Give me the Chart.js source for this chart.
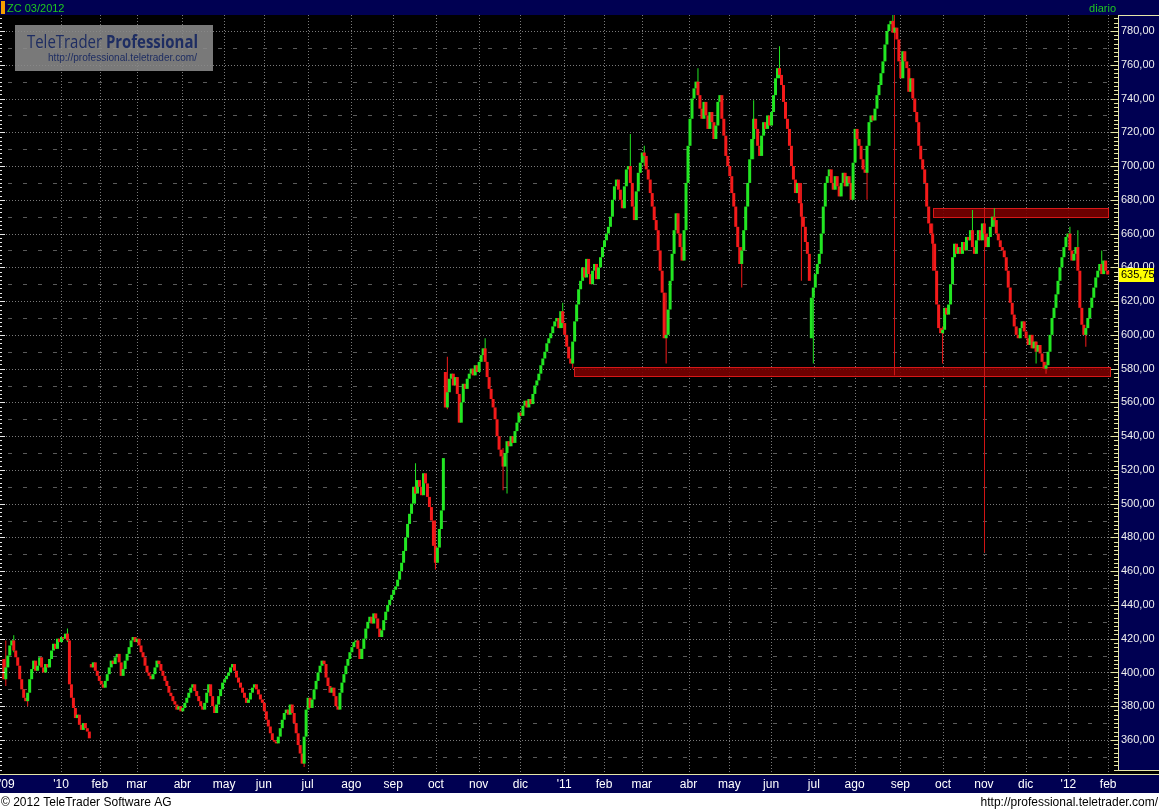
<!DOCTYPE html>
<html>
<head>
<meta charset="utf-8">
<script src="https://cdn.jsdelivr.net/npm/chart.js@4.4.0/dist/chart.umd.min.js"></script>
<style>
  html, body { margin: 0; padding: 0; background: #fff; }
  #wrap { width: 1159px; height: 810px; }
</style>
</head>
<body>
<div id="wrap"><canvas id="chart" width="1159" height="810"></canvas></div>
<script>
// ZC 03/2012, daily closes (one per trading day)
const closes = [
  396, 403, 410, 416, 419, 413, 409, 404, 396, 390,
  385, 383, 388, 396, 402, 407, 401, 404, 409, 403,
  400, 405, 403, 408, 413, 417, 414, 420, 418, 421,
  420, 423, 419, 393, 385, 379, 373, 375, 369, 366,
  370, 367, 365, 361, 403, 406, 401, 398, 395, 393,
  391, 395, 399, 403, 407, 405, 409, 411, 406, 398,
  402, 407, 411, 415, 419, 421, 418, 420, 416, 412,
  409, 404, 400, 398, 396, 399, 403, 407, 405, 401,
  398, 395, 392, 388, 386, 383, 381, 378, 380, 377,
  379, 382, 385, 388, 391, 393, 389, 386, 383, 380,
  378, 382, 388, 393, 386, 380, 376, 381, 386, 390,
  394, 396, 398, 400, 403, 405, 401, 397, 394, 391,
  388, 385, 382, 384, 388, 391, 393, 390, 387, 384,
  382, 377, 372, 368, 364, 360, 359, 358, 362, 367,
  372, 376, 378, 375, 381, 376, 370, 364, 357, 352,
  346, 362, 378, 385, 379, 384, 390, 395, 400, 404,
  407, 405, 397, 392, 388, 391, 386, 380, 378, 388,
  394, 399, 404, 408, 412, 415, 418, 419, 414, 408,
  414, 420, 426, 430, 433, 429, 435, 432, 426, 421,
  425, 431, 436, 440, 443, 446, 449, 451, 455, 460,
  465, 472, 480, 488, 494, 500, 510, 506, 514, 510,
  505, 518, 512, 504, 498, 490, 475, 465, 474, 485,
  496, 527, 557, 566, 574, 577, 570, 575, 565, 548,
  560, 571, 568, 574, 577, 580, 576, 582, 578, 584,
  588, 592, 584, 575, 568, 562, 557, 550, 540, 532,
  528, 522, 530, 537, 534, 540, 536, 543, 548, 554,
  552, 558, 561, 557, 562, 559, 565, 570, 573, 577,
  582, 586, 590, 595, 598, 601, 605, 608, 610, 604,
  614, 607, 600, 593, 586, 583, 596, 608, 618, 627,
  632, 640, 634, 645, 636, 630, 638, 642, 633, 640,
  646, 652, 656, 660, 664, 670, 680, 688, 692, 686,
  680, 675, 688, 698, 700, 690, 676, 668, 685, 696,
  702, 708, 706, 698, 692, 684, 676, 668, 662, 650,
  638, 625, 598, 600, 615, 632, 648, 662, 672, 660,
  652, 644, 662, 690, 712, 728, 740, 746, 750, 742,
  734, 728, 738, 730, 722, 732, 726, 716, 724, 738,
  742, 728, 718, 706, 700, 694, 684, 676, 664, 652,
  642, 650, 662, 676, 690, 704, 716, 728, 722, 712,
  706, 718, 726, 722, 730, 724, 732, 742, 752, 758,
  754, 748, 738, 728, 722, 712, 700, 692, 684, 690,
  678, 670, 664, 655, 648, 632, 622, 628, 636, 642,
  648, 660, 676, 690, 694, 698, 690, 686, 694, 688,
  682, 690, 696, 688, 694, 690, 680, 702, 722, 716,
  712, 704, 698, 696, 712, 726, 730, 727, 734, 742,
  748, 755, 762, 772, 780, 784, 786, 779, 782, 775,
  762, 752, 768, 762, 758, 744, 752, 740, 732, 726,
  712, 704, 698, 690, 676, 666, 660, 654, 638, 618,
  604, 601, 603, 616, 612, 618, 630, 646, 654, 648,
  652, 648, 655, 650, 658, 656, 662, 652, 648, 656,
  662, 656, 666, 660, 652, 658, 664, 670, 668, 660,
  656, 652, 650, 646, 638, 628, 619, 612, 605, 600,
  598, 604, 608, 602, 598, 594, 600, 592, 596, 590,
  594, 589, 584, 580, 582, 590, 600, 610, 616, 624,
  632, 640, 646, 652, 658, 660, 650, 644, 648, 652,
  638, 616, 606, 600, 604, 610, 616, 622, 628, 634,
  638, 642, 636, 644, 638, 635.75
];

// days whose open is not the previous close (gaps): [day, open]
const gapOpens = [[0, 408], [44, 405], [222, 578], [406, 598]];

// long shadows: [day, high, low]
const wicks = [
  [0, 419, 392], [4, 422, 412], [11, 386, 380], [31, 426, 418],
  [150, 352, 344], [206, 524, 500], [216, 490, 461], [222, 587, 556],
  [241, 598, 585], [250, 533, 508], [252, 535, 506], [280, 619, 604],
  [285, 590, 580], [314, 719, 690], [321, 712, 700], [332, 625, 583],
  [348, 758, 742], [370, 652, 628], [376, 739, 704], [389, 771, 752],
  [400, 690, 632], [406, 622, 583], [433, 698, 680], [446, 790, 780],
  [466, 666, 638], [471, 605, 583], [486, 674, 656], [497, 675, 664],
  [518, 596, 583], [523, 584, 577], [535, 664, 658], [539, 662, 648],
  [543, 604, 593], [551, 650, 638]
];

// x axis: trading-day position of each month start, and its label
const monthTicks = [0.8, 28, 47.5, 66, 89, 110, 130, 152, 174, 195, 216.5, 238, 259,
  281, 301, 320, 343.5, 364, 385, 406.5, 427, 450, 471.5, 492, 513, 534.5, 554.5];
const monthLabels = ["'09", "'10", "feb", "mar", "abr", "may", "jun", "jul", "ago", "sep", "oct", "nov", "dic",
  "'11", "feb", "mar", "abr", "may", "jun", "jul", "ago", "sep", "oct", "nov", "dic", "'12", "feb"];

const yTicks = [360, 380, 400, 420, 440, 460, 480, 500, 520, 540, 560, 580, 600,
  620, 640, 660, 680, 700, 720, 740, 760, 780];

// drawn support / resistance boxes: [fromDay, toDay, low, high]
const supportBox = [286, 555.5, 575.5, 581];
const resistanceBox = [466.5, 554.5, 669.8, 675];
// measuring lines: [day, from, to]
const measureLines = [[446.8, 576, 789.5], [492, 471, 675]];

const UP = "#22e622";
const DOWN = "#f41a1a";
const NAVY = "#000052";

const opens = closes.map((c, i) => i === 0 ? c : closes[i - 1]);
gapOpens.forEach(([i, o]) => { opens[i] = o; });
const candleColors = closes.map((c, i) => c >= opens[i] ? UP : DOWN);

const bodyData = closes.map((c, i) => ({ x: i, y: [opens[i], c] }));
const wickData = wicks.map(([i, h, l]) => ({ x: i, y: [l, h] }));
const wickColors = wicks.map(([i]) => candleColors[i]);

const fmt = v => v.toFixed(2).replace(".", ",");

const terminal = {
  id: "terminal",
  beforeDraw(chart) {
    const { ctx, chartArea: a, width, height } = chart;
    ctx.save();
    ctx.fillStyle = "#fff";
    ctx.fillRect(0, 0, width, height);
    ctx.fillStyle = NAVY;
    ctx.fillRect(0, 0, width, a.top);
    ctx.fillStyle = "#000";
    ctx.fillRect(0, a.top, width, a.bottom - a.top);
    ctx.fillStyle = NAVY;
    ctx.fillRect(a.right, a.top, width - a.right, a.bottom - a.top - 4);
    ctx.fillRect(0, a.bottom, width, 19);
    ctx.restore();
  },
  beforeDatasetsDraw(chart) {
    const { ctx, chartArea: a, scales: { x, y } } = chart;
    ctx.save();
    ctx.beginPath();
    ctx.rect(a.left, a.top, a.right - a.left, a.bottom - a.top);
    ctx.clip();
    ctx.lineWidth = 1;

    ctx.strokeStyle = "#7a7a7a";
    ctx.setLineDash([1, 2]);
    monthTicks.slice(1).forEach(v => {
      const px = Math.round(x.getPixelForValue(v)) + 0.5;
      ctx.beginPath(); ctx.moveTo(px, a.top); ctx.lineTo(px, a.bottom); ctx.stroke();
    });
    yTicks.forEach(v => {
      const py = Math.round(y.getPixelForValue(v)) + 0.5;
      ctx.beginPath(); ctx.moveTo(a.left, py); ctx.lineTo(a.right, py); ctx.stroke();
    });
    ctx.strokeStyle = "#5a5a5a";
    ctx.setLineDash([4, 11]);
    yTicks.map(v => v - 10).concat([790]).forEach(v => {
      const py = Math.round(y.getPixelForValue(v)) + 0.5;
      ctx.beginPath(); ctx.moveTo(a.left + 8, py); ctx.lineTo(a.right, py); ctx.stroke();
    });
    ctx.setLineDash([]);

    [supportBox, resistanceBox].forEach(([d0, d1, lo, hi]) => {
      const x0 = Math.round(x.getPixelForValue(d0)) + 0.5;
      const x1 = Math.round(x.getPixelForValue(d1)) + 0.5;
      const y0 = Math.round(y.getPixelForValue(hi)) + 0.5;
      const y1 = Math.round(y.getPixelForValue(lo)) + 0.5;
      ctx.fillStyle = "rgba(120,0,0,0.9)";
      ctx.fillRect(x0, y0, x1 - x0, y1 - y0);
      ctx.strokeStyle = "#d81818";
      ctx.strokeRect(x0, y0, x1 - x0, y1 - y0);
    });
    ctx.strokeStyle = "#d01414";
    measureLines.forEach(([d, v0, v1]) => {
      const px = Math.round(x.getPixelForValue(d)) + 0.5;
      ctx.beginPath();
      ctx.moveTo(px, y.getPixelForValue(v0));
      ctx.lineTo(px, y.getPixelForValue(v1));
      ctx.stroke();
    });
    ctx.restore();
  },
  afterDraw(chart) {
    const { ctx, chartArea: a, scales: { y }, width } = chart;
    ctx.save();

    // axis frame lines
    ctx.fillStyle = "#e6e6a8";
    ctx.fillRect(0, a.bottom, width, 1);
    ctx.fillRect(a.right, a.top, 1, a.bottom - a.top - 4);
    ctx.fillRect(a.right, a.top, width - a.right, 1);
    ctx.fillRect(a.right, a.bottom - 4, width - a.right, 1);

    // small tick marks on both plot edges
    for (let v = 340; v <= 790; v += 2.5) {
      const py = Math.round(y.getPixelForValue(v));
      if (py < a.top + 2 || py > a.bottom - 2) continue;
      const major = v % 20 === 0;
      ctx.fillStyle = "#e6e6a8";
      ctx.fillRect(a.right - (major ? 7 : 4), py, major ? 7 : 4, 1);
      ctx.fillStyle = "#e8e8e8";
      ctx.fillRect(0, py, major ? 5 : 2, 1);
    }

    // last price
    const last = closes[closes.length - 1];
    const lp = y.getPixelForValue(last);
    ctx.fillStyle = "#ffff00";
    ctx.fillRect(a.right + 1, Math.round(lp) - 7, 35, 14);
    ctx.fillStyle = "#000";
    ctx.font = '11px "Liberation Sans"';
    ctx.textBaseline = "middle";
    ctx.fillText(fmt(last), a.right + 3, lp + 0.5);

    // logo
    ctx.fillStyle = "rgba(138,138,138,0.88)";
    ctx.fillRect(15, 25, 198, 46);
    ctx.fillStyle = "#1e2d62";
    ctx.textBaseline = "alphabetic";
    ctx.font = '18px "Open Sans"';
    const w1 = ctx.measureText("TeleTrader ").width;
    ctx.font = 'bold 18px "Open Sans"';
    const w2 = ctx.measureText("Professional").width;
    ctx.save();
    ctx.translate(27, 48);
    ctx.scale(171 / (w1 + w2), 1);
    ctx.font = '18px "Open Sans"';
    ctx.fillText("TeleTrader ", 0, 0);
    ctx.font = 'bold 18px "Open Sans"';
    ctx.fillText("Professional", w1, 0);
    ctx.restore();
    ctx.font = '11px "Liberation Sans"';
    const wu = ctx.measureText("http://professional.teletrader.com/").width;
    ctx.save();
    ctx.translate(48, 61);
    ctx.scale(149 / wu, 1);
    ctx.fillText("http://professional.teletrader.com/", 0, 0);
    ctx.restore();

    // header
    ctx.fillStyle = "#f5a000";
    ctx.fillRect(1, 1, 4, 13);
    ctx.fillStyle = "#1fc81f";
    ctx.font = '11px "Liberation Sans"';
    ctx.fillText("ZC 03/2012", 7, 12);
    ctx.textAlign = "right";
    ctx.fillText("diario", 1116, 12);

    // footer
    ctx.fillStyle = "#000";
    ctx.font = '12px "Liberation Sans"';
    ctx.textAlign = "left";
    ctx.fillText("\u00a9 2012 TeleTrader Software AG", 1, 806);
    ctx.textAlign = "right";
    ctx.fillText("http://professional.teletrader.com/", 1158, 806);
    ctx.restore();
  }
};

const xRange = { min: -2.665, max: 559.43 };

new Chart(document.getElementById("chart"), {
  type: "bar",
  data: {
    datasets: [
      {
        data: bodyData,
        xAxisID: "x",
        backgroundColor: candleColors,
        borderWidth: 0,
        barThickness: 3,
        inflateAmount: 0,
        minBarLength: 1
      },
      {
        data: wickData,
        xAxisID: "x2",
        backgroundColor: wickColors,
        borderWidth: 0,
        barThickness: 1,
        inflateAmount: 0
      }
    ]
  },
  options: {
    responsive: false,
    animation: false,
    devicePixelRatio: 1,
    events: [],
    layout: { padding: { top: 15, bottom: 17, left: 0, right: 0 } },
    plugins: { legend: { display: false }, tooltip: { enabled: false } },
    scales: {
      x: {
        type: "linear",
        min: xRange.min,
        max: xRange.max,
        offset: false,
        grid: { display: false, drawTicks: false },
        border: { display: false },
        afterBuildTicks: s => { s.ticks = monthTicks.map(v => ({ value: v })); },
        afterFit: s => { s.height = 19; s.paddingLeft = 0; s.paddingRight = 0; },
        ticks: {
          autoSkip: false,
          maxRotation: 0,
          minRotation: 0,
          padding: 3,
          color: "#ffffff",
          font: { family: "Liberation Sans", size: 12 },
          callback: (v, i) => monthLabels[i]
        }
      },
      x2: {
        type: "linear",
        min: xRange.min,
        max: xRange.max,
        offset: false,
        display: false
      },
      y: {
        position: "right",
        min: 339.86,
        max: 789.48,
        grid: { display: false, drawTicks: false },
        border: { display: false },
        afterBuildTicks: s => { s.ticks = yTicks.map(v => ({ value: v })); },
        afterFit: s => { s.width = 41; s.paddingTop = 0; s.paddingBottom = 0; },
        ticks: {
          padding: 3,
          color: "#f0f0f0",
          font: { family: "Liberation Sans", size: 11 },
          callback: v => fmt(v)
        }
      }
    }
  },
  plugins: [terminal]
});
</script>
</body>
</html>
